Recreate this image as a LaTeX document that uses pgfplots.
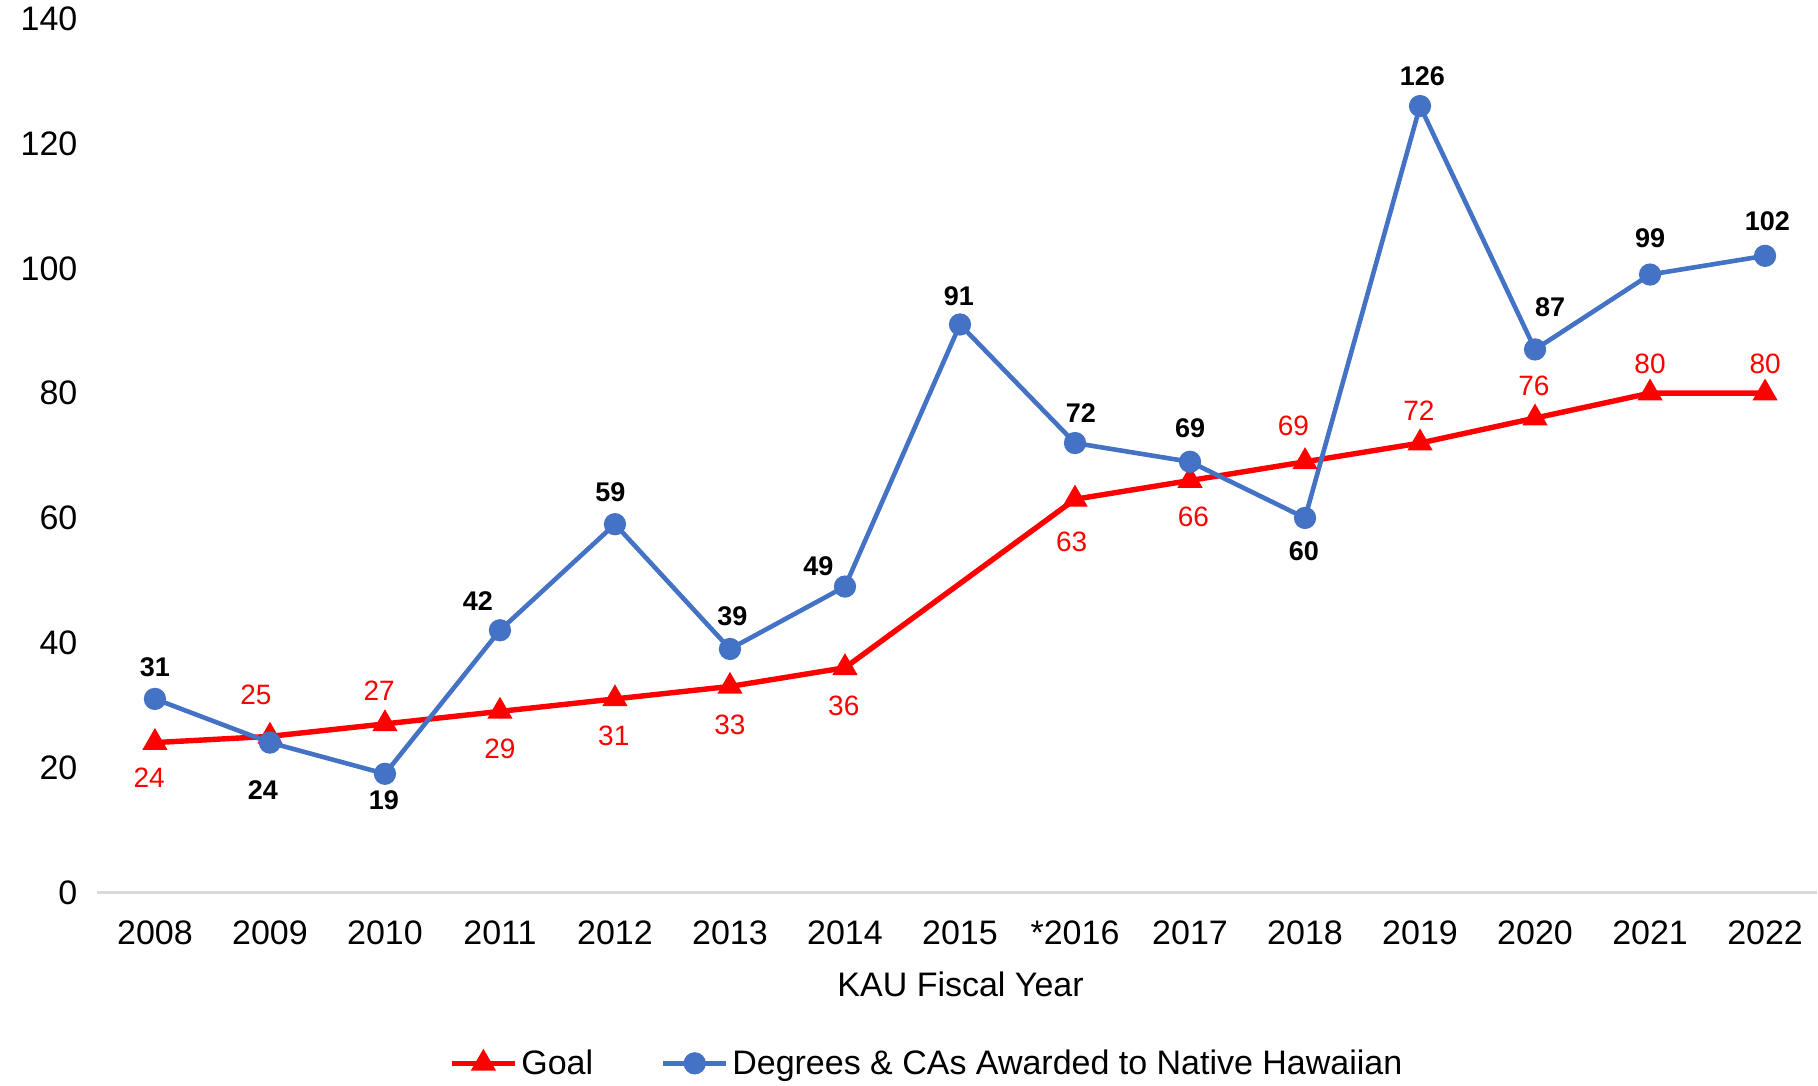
\documentclass[border=0pt]{standalone}
\usepackage{fontspec}
\setmainfont{Liberation Sans}
\usepackage{pgfplots}
\pgfplotsset{compat=1.18}
\usepackage{pgfplotstable}

\definecolor{goalred}{RGB}{255,0,0}
\definecolor{degblue}{RGB}{68,114,196}
\definecolor{axgray}{RGB}{217,217,217}

% x = category index (0 = 2008), dx/dy = label offset in pt
\pgfplotstableread{
x  y   dx    dy
0  24  -2.9  -17.4
1  25  -7.0  20.9
2  27  -2.9  16.8
3  29   0.0  -18.6
4  31  -0.6  -18.6
5  33   0.0  -19.1
6  36  -0.6  -19.1
8  63  -1.7  -21.5
9  66   1.7  -18.0
10 69  -5.8  18.0
11 72  -0.6  16.2
12 76  -0.6  16.2
13 80   0.0  14.5
14 80   0.0  14.5
}\goal

\pgfplotstableread{
x  y    dx    dy
0  31   0.0   15.7
1  24  -3.5  -23.8
2  19  -0.5  -13.3
3  42  -11.0  14.5
4  59  -2.3   16.2
5  39   1.2   16.2
6  49  -13.3  10.4
7  91  -0.6   13.9
8  72   2.9   15.0
9  69   0.0   16.8
10 60  -0.6  -16.8
11 126  1.2   15.0
12 87   7.5   20.9
13 99   0.0   18.0
14 102  1.2   17.4
}\awarded

\begin{document}
\begin{tikzpicture}
\begin{axis}[
  scale only axis, width=860pt, height=437pt,
  xmin=-0.5, xmax=14.45, ymin=0, ymax=140,
  ytick={0,20,...,140},
  xtick={0,...,14},
  xticklabels={2008,2009,2010,2011,2012,2013,2014,2015,*2016,2017,2018,2019,2020,2021,2022},
  axis x line*=bottom, axis y line*=left,
  x axis line style={draw=axgray, line width=1.2pt, -},
  y axis line style={draw=none},
  major tick length=0pt,
  tick label style={font=\fontsize{17}{20}\selectfont},
  /pgf/number format/assume math mode=true,
  yticklabel style={anchor=east, xshift=-6.5pt},
  xticklabel style={anchor=center, yshift=-20pt},
  xlabel={KAU Fiscal Year},
  xlabel style={font=\fontsize{17}{20}\selectfont, at={(axis description cs:0.502,0)}, anchor=base, yshift=-52pt},
  clip=false,
  legend style={draw=none, at={(axis description cs:0.483,0)}, anchor=center, yshift=-85.5pt,
    font=\fontsize{17}{20}\selectfont,
    /tikz/every even column/.append style={column sep=32pt}},
  legend columns=-1,
  legend image code/.code={\draw[mark repeat=2,mark phase=2] plot coordinates {(0cm,0cm) (0.55cm,0cm) (1.1cm,0cm)};},
]

\addplot[goalred, line width=2.7pt, mark=triangle*, mark size=4.6pt, mark options={solid},
  visualization depends on={\thisrow{dx}\as\dx},
  visualization depends on={\thisrow{dy}\as\dy},
  nodes near coords,
  every node near coord/.append style={text=goalred, font=\fontsize{14}{16}\selectfont, anchor=center, xshift=\dx pt, yshift=\dy pt}]
  table[x=x, y=y] {\goal};
\addlegendentry{Goal}

\addplot[degblue, line width=2.3pt, mark=*, mark size=4.4pt, mark options={solid},
  visualization depends on={\thisrow{dx}\as\dx},
  visualization depends on={\thisrow{dy}\as\dy},
  nodes near coords,
  every node near coord/.append style={text=black, font=\fontsize{13.5}{16}\selectfont\bfseries, anchor=center, xshift=\dx pt, yshift=\dy pt}]
  table[x=x, y=y] {\awarded};
\addlegendentry{Degrees \& CAs Awarded to Native Hawaiian}

\end{axis}
% a little white room on the left, as in the reference
\path (current bounding box.west) ++(-7pt,0);
\end{tikzpicture}
\end{document}
